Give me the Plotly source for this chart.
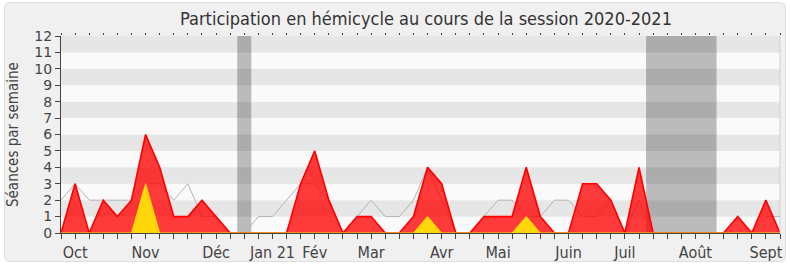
import plotly.graph_objects as go

weeks = list(range(52))
red_vals = [0,3,0,2,1,2,6,4,1,1,2,1,0,0,0,0,0,3,5,2,0,1,1,0,0,1,4,3,0,0,1,1,1,4,1,0,0,3,3,2,0,4,0,0,0,0,0,0,1,0,2,0]
yellow_vals = [0,0,0,0,0,0,3,0,0,0,0,0,0,0,0,0,0,0,0,0,0,0,0,0,0,0,1,0,0,0,0,0,0,1,0,0,0,0,0,0,0,0,0,0,0,0,0,0,0,0,0,0]
gray_vals = [2,3,2,2,2,2,3,3,2,3,1,1,0,0,1,1,2,3,3,2,0,1,2,1,1,2,4,2,0,0,1,2,2,1,1,2,2,1,1,2,0,2,0,0,0,0,0,0,0,0,1,1]
month_labels = ["Oct", "Nov", "Déc", "Jan 21", "Fév", "Mar", "Avr", "Mai", "Juin", "Juil", "Août", "Sept"]
month_pos = [1, 6, 11, 15, 18, 22, 27, 31, 36, 40, 45, 50]
holiday_start = [12.5, 41.5]
holiday_end = [13.5, 46.5]

FONT = "DejaVu Sans Condensed, Liberation Sans Narrow, DejaVu Sans, sans-serif"
FONT_W = "DejaVu Sans, Verdana, sans-serif"

ticktext = []
for w in weeks:
    ticktext.append(month_labels[month_pos.index(w)] if w in month_pos else "")

fig = go.Figure()
fig.add_trace(go.Scatter(x=weeks, y=gray_vals, mode="lines",
                         line=dict(color="#b4b4b4", width=1), hoverinfo="skip", showlegend=False))
fig.add_trace(go.Scatter(x=weeks, y=red_vals, mode="lines", fill="tozeroy",
                         fillcolor="rgba(255,0,0,0.77)", line=dict(color="#ff0000", width=1.6),
                         hoverinfo="skip", showlegend=False))
fig.add_trace(go.Scatter(x=weeks, y=yellow_vals, mode="lines", fill="tozeroy",
                         fillcolor="#ffd60a", line=dict(color="#ffe000", width=1),
                         hoverinfo="skip", showlegend=False))
fig.add_trace(go.Scatter(x=[0], y=[0], xaxis="x2", mode="markers", marker=dict(opacity=0),
                         hoverinfo="skip", showlegend=False))

shapes = []
for k in range(12):
    shapes.append(dict(type="rect", xref="x", yref="y", x0=0, x1=51, y0=k, y1=k + 1,
                       fillcolor="#e6e6e6" if k % 2 == 1 else "#fafafa",
                       line=dict(width=0), layer="below"))
for a, b in zip(holiday_start, holiday_end):
    shapes.append(dict(type="rect", xref="x", yref="y", x0=a, x1=b, y0=0, y1=12,
                       fillcolor="rgba(0,0,0,0.25)", line=dict(width=0), layer="below"))
shapes.append(dict(type="line", xref="paper", yref="paper", x0=1, x1=1, y0=0, y1=1,
                   line=dict(color="#cfcfcf", width=1)))
# rounded outer frame
W, H = 790, 267
l, r, t, b = 61, 10, 36, 34
pw, ph = W - l - r, H - t - b
def px(xp): return (xp - l) / pw
def py(yp): return 1 - (yp - t) / ph
x0, x1, y0, y1, rr = 4.5, 785.5, 2.5, 261.5, 6
path = (f"M {px(x0+rr)},{py(y0)} L {px(x1-rr)},{py(y0)} Q {px(x1)},{py(y0)} {px(x1)},{py(y0+rr)} "
        f"L {px(x1)},{py(y1-rr)} Q {px(x1)},{py(y1)} {px(x1-rr)},{py(y1)} "
        f"L {px(x0+rr)},{py(y1)} Q {px(x0)},{py(y1)} {px(x0)},{py(y1-rr)} "
        f"L {px(x0)},{py(y0+rr)} Q {px(x0)},{py(y0)} {px(x0+rr)},{py(y0)} Z")
shapes.insert(0, dict(type="path", xref="paper", yref="paper", path=path,
                      fillcolor="#f0f0f0", line=dict(color="#dedede", width=1), layer="below"))

fig.update_layout(
    width=W, height=H,
    margin=dict(l=l, r=r, t=t, b=b, autoexpand=False),
    paper_bgcolor="#ffffff",
    plot_bgcolor="#fafafa",
    shapes=shapes,
    title=dict(text="Participation en hémicycle au cours de la session 2020-2021",
               x=(426 / W), xanchor="center", y=1 - 19 / H, yanchor="middle",
               font=dict(family=FONT, size=18, color="#333333")),
    xaxis=dict(range=[0, 51], tickmode="array", tickvals=weeks, ticktext=ticktext,
               ticks="outside", ticklen=5, tickcolor="#444444", showgrid=False, zeroline=False,
               showline=True, linecolor="#444444", linewidth=1, automargin=False,
               tickfont=dict(family=FONT, size=16, color="#444444"), fixedrange=True),
    xaxis2=dict(range=[0, 51], overlaying="x", side="top", tickmode="array", tickvals=weeks,
                ticks="outside", ticklen=2, tickcolor="#444444", showticklabels=False,
                showgrid=False, zeroline=False, showline=False, automargin=False),
    yaxis=dict(range=[0, 12], tickmode="array", tickvals=list(range(13)),
               ticks="outside", ticklen=5, tickcolor="#444444", showgrid=False, zeroline=False,
               showline=True, linecolor="#444444", linewidth=1, automargin=False,
               tickfont=dict(family=FONT_W, size=14, color="#444444")),
    annotations=[dict(text="Séances par semaine", xref="paper", yref="paper",
                      x=px(12.5), y=0.5, xanchor="center", yanchor="middle", textangle=-90,
                      showarrow=False, font=dict(family=FONT, size=15, color="#444444"))],
)

fig.write_html("out.html")
